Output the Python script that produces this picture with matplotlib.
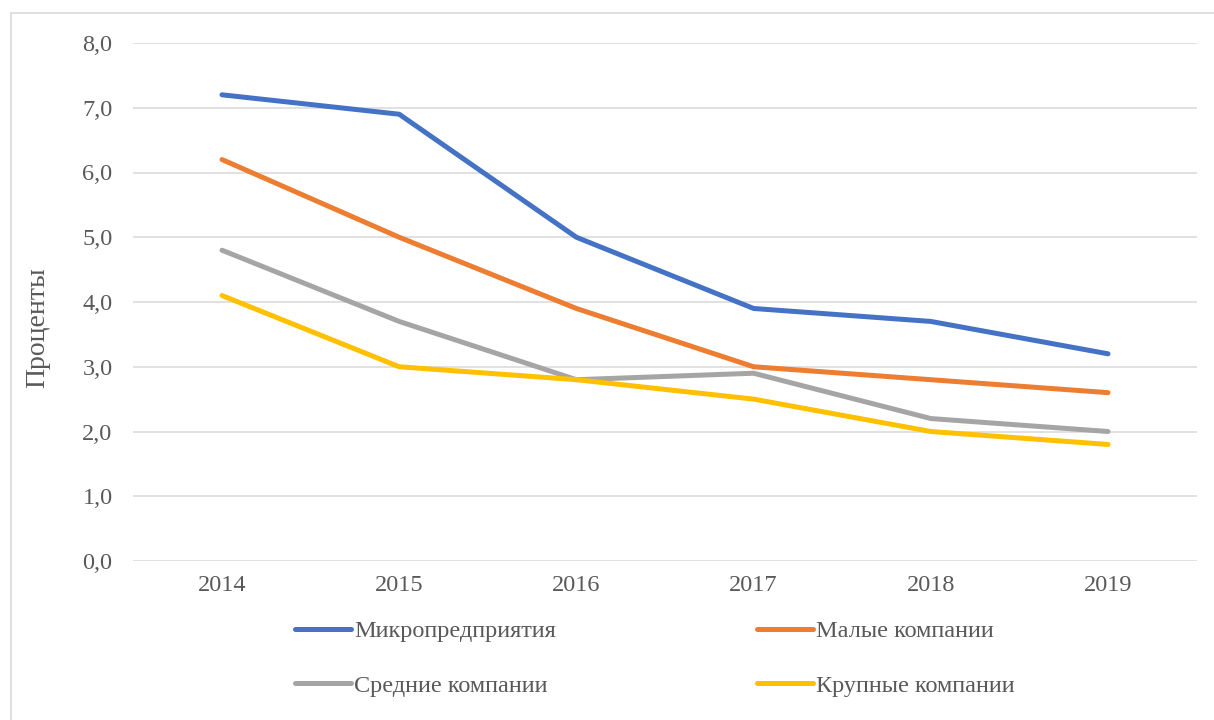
import matplotlib.pyplot as plt
from matplotlib.patches import Rectangle

plt.rcParams['font.family'] = ['Liberation Serif', 'DejaVu Serif']

years = ['2014', '2015', '2016', '2017', '2018', '2019']
micro = [7.2, 6.9, 5.0, 3.9, 3.7, 3.2]
small = [6.2, 5.0, 3.9, 3.0, 2.8, 2.6]
medium = [4.8, 3.7, 2.8, 2.9, 2.2, 2.0]
large = [4.1, 3.0, 2.8, 2.5, 2.0, 1.8]
series_names = ['Микропредприятия', 'Малые компании', 'Средние компании', 'Крупные компании']
colors = ['#4472C4', '#ED7D31', '#A5A5A5', '#FFC000']

W, H = 1214, 720
fig = plt.figure(figsize=(W / 100, H / 100), dpi=100)
fig.patch.set_facecolor('white')

# chart area frame
fig.patches.append(Rectangle((11 / W, -0.1), 1.2, 1 - 13 / H + 0.1, transform=fig.transFigure,
                             fill=False, edgecolor='#D9D9D9', linewidth=1.2))

ax = fig.add_axes([133.4 / W, 1 - 561 / H, (1196.6 - 133.4) / W, (561 - 43) / H])
x = range(len(years))
lines = []
for vals, name, c in zip([micro, small, medium, large], series_names, colors):
    ln, = ax.plot(x, vals, color=c, linewidth=3.6, solid_capstyle='round',
                  solid_joinstyle='round', label=name)
    lines.append(ln)

ax.set_xlim(-0.5, len(years) - 0.5)
ax.set_ylim(0, 8)
ax.set_xticks(list(x))
ax.set_xticklabels(years)
ax.set_yticks(range(0, 9))
ax.set_yticklabels([f'{v},0' for v in range(0, 9)])
ax.tick_params(length=0, labelsize=17.5, labelcolor='#595959')
ax.tick_params(axis='x', pad=10)
ax.tick_params(axis='y', pad=15)
for s in ax.spines.values():
    s.set_visible(False)
ax.grid(axis='y', color='#D9D9D9', linewidth=1.1)
ax.set_axisbelow(True)

ax.set_ylabel('Проценты', fontsize=20, color='#595959')
ax.yaxis.set_label_coords((50 - 133.4) / (1196.6 - 133.4), 0.45)

# legend filled row by row: micro, small / medium, large
order = [0, 2, 1, 3]
fig.legend([lines[i] for i in order], [series_names[i] for i in order], ncol=2, loc='center',
           bbox_to_anchor=(655 / W, 1 - 658.5 / H), frameon=False, fontsize=17.5,
           labelcolor='#595959', handlelength=2.3, handletextpad=0.12,
           columnspacing=8.3, labelspacing=1.35)

fig.savefig('out.png', dpi=100)
